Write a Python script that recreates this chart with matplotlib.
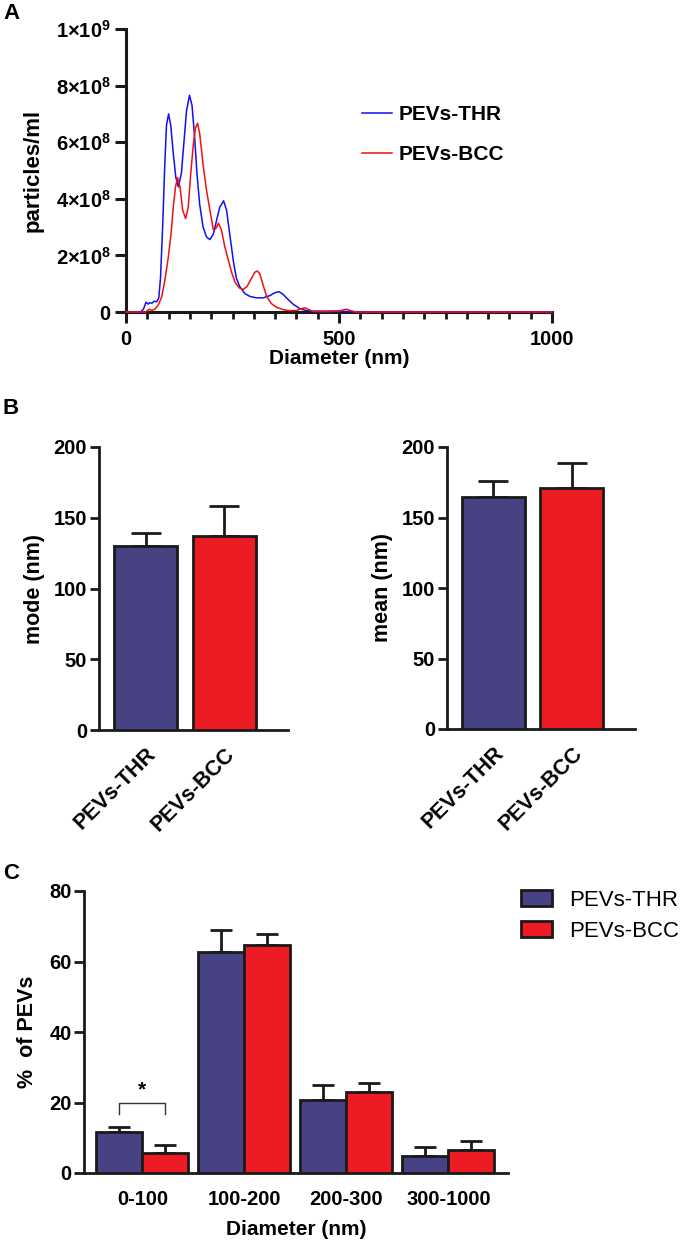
import matplotlib
matplotlib.use('Agg')
import matplotlib.pyplot as plt
from matplotlib.patches import Patch
from matplotlib.lines import Line2D
from matplotlib.ticker import MultipleLocator, FixedLocator

plt.rcParams['font.family'] = ['Liberation Sans', 'DejaVu Sans']
plt.rcParams['mathtext.fontset'] = 'custom'
plt.rcParams['mathtext.rm'] = 'Liberation Sans'
plt.rcParams['mathtext.bf'] = 'Liberation Sans:bold'
plt.rcParams['mathtext.it'] = 'Liberation Sans:italic'

# ---------------- data ----------------
# Panel A: size distribution (particles/ml, in units of 1e8)
diam_thr = [0, 34, 41, 47, 52, 56, 61, 66, 72, 77, 81, 86, 91, 95, 100, 105, 111, 117,
            123, 130, 136, 142, 149, 155, 161, 167, 173, 181, 189, 197, 205, 212, 220,
            229, 236, 244, 252, 259, 267, 279, 291, 306, 322, 338, 349, 359, 369, 380,
            392, 408, 423, 439, 486, 517, 533, 1000]
conc_thr = [0, 0, 0.1, 0.35, 0.28, 0.33, 0.31, 0.38, 0.36, 0.5, 1.2, 3.0, 5.2, 6.6, 7.0,
            6.6, 5.6, 4.75, 4.42, 4.9, 6.0, 7.1, 7.66, 7.3, 6.2, 4.8, 3.8, 3.0, 2.65, 2.56,
            2.75, 3.2, 3.7, 3.93, 3.6, 2.7, 1.8, 1.2, 0.9, 0.65, 0.55, 0.5, 0.5, 0.58, 0.68,
            0.72, 0.62, 0.45, 0.28, 0.12, 0.05, 0.03, 0.03, 0.02, 0, 0]
diam_bcc = [0, 47, 50, 55, 60, 68, 76, 84, 91, 99, 106, 111, 116, 121, 127, 133, 140, 146,
            152, 158, 163, 168, 173, 181, 189, 197, 205, 211, 217, 224, 232, 240, 248, 256,
            266, 275, 284, 295, 302, 308, 314, 322, 330, 341, 353, 369, 384, 400, 412, 420,
            427, 439, 470, 502, 517, 529, 541, 1000]
conc_bcc = [0, 0, 0.05, 0.1, 0.05, 0.1, 0.25, 0.55, 1.1, 1.9, 2.8, 3.7, 4.4, 4.75, 4.4,
            3.6, 3.3, 3.7, 4.9, 5.9, 6.5, 6.67, 6.3, 5.2, 4.3, 3.6, 2.9, 2.95, 3.14, 2.9,
            2.3, 1.85, 1.4, 1.05, 0.85, 0.8, 0.9, 1.2, 1.4, 1.45, 1.35, 0.95, 0.55, 0.3,
            0.17, 0.08, 0.05, 0.05, 0.12, 0.15, 0.1, 0.02, 0.01, 0.04, 0.1, 0.04, 0, 0]
a_yticks = [0, 2e8, 4e8, 6e8, 8e8, 1e9]
a_yticklabels = ['0', r'$\mathbf{2{\times}10^{8}}$', r'$\mathbf{4{\times}10^{8}}$',
                 r'$\mathbf{6{\times}10^{8}}$', r'$\mathbf{8{\times}10^{8}}$',
                 r'$\mathbf{1{\times}10^{9}}$']

# Panel B
groups = ['PEVs-THR', 'PEVs-BCC']
mode_vals = [130.2, 137.3]
mode_err = [9.2, 20.8]
mean_vals = [164.5, 170.7]
mean_err = [11.4, 17.9]

# Panel C
bins = ['0-100', '100-200', '200-300', '300-1000']
pct_thr = [11.5, 62.8, 20.8, 4.8]
pct_thr_err = [1.5, 6.0, 4.3, 2.6]
pct_bcc = [5.8, 64.8, 23.0, 6.4]
pct_bcc_err = [2.2, 3.1, 2.4, 2.6]

# ---------------- style ----------------
C_THR = '#474283'
C_BCC = '#ED1C24'
LINE_BLUE = '#1010F0'
LINE_RED = '#F01010'
INK = '#1a1a1a'

fig = plt.figure(figsize=(6.85, 12.4), dpi=100)
W, H = 685, 1240


def ax_at(x0, y0, x1, y1):
    return fig.add_axes([x0 / W, 1 - y1 / H, (x1 - x0) / W, (y1 - y0) / H])


def style_spines(ax, lw):
    for s in ['top', 'right']:
        ax.spines[s].set_visible(False)
    for s in ['left', 'bottom']:
        ax.spines[s].set_linewidth(lw)
        ax.spines[s].set_color(INK)


# ---------------- Panel A ----------------
axA = ax_at(126, 29, 552, 312)
axA.plot(diam_thr, [v * 1e8 for v in conc_thr], color=LINE_BLUE, lw=1.1, label='PEVs-THR',
         clip_on=False, zorder=3)
axA.plot(diam_bcc, [v * 1e8 for v in conc_bcc], color=LINE_RED, lw=1.1, label='PEVs-BCC',
         clip_on=False, zorder=3)
axA.set_xlim(0, 1000)
axA.set_ylim(0, 1e9)
style_spines(axA, 2.2)
axA.yaxis.set_major_locator(FixedLocator(a_yticks))
axA.set_yticklabels(a_yticklabels)
axA.xaxis.set_major_locator(FixedLocator([0, 500, 1000]))
axA.xaxis.set_minor_locator(MultipleLocator(50))
axA.tick_params(axis='y', length=8, width=2.2, pad=3, labelsize=14.5, color=INK)
axA.tick_params(axis='x', which='major', length=8, width=2.2, pad=5, labelsize=14.5,
                color=INK)
axA.tick_params(axis='x', which='minor', length=5, width=2.0, color=INK)
for t in axA.get_xticklabels() + axA.get_yticklabels():
    t.set_fontweight('bold')
axA.set_xlabel('Diameter (nm)', fontsize=15, fontweight='bold', labelpad=0)
axA.set_ylabel('particles/ml', fontsize=16, fontweight='bold', labelpad=9)
legA = axA.legend(loc='upper left', bbox_to_anchor=((362 - 126) / 426, (312 - 105) / 283),
                  frameon=False, borderpad=0, borderaxespad=0, handlelength=1.45,
                  handletextpad=0.3, labelspacing=1.0,
                  prop={'size': 15, 'weight': 'bold'})

# ---------------- Panel B ----------------
def bar_panel(ax, vals, errs, ylabel):
    x = [0, 1]
    ax.bar(x, vals, width=0.8, color=[C_THR, C_BCC], edgecolor=INK, linewidth=2,
           zorder=3)
    ax.errorbar(x, vals, yerr=[[0, 0], errs], fmt='none', ecolor=INK, elinewidth=2,
                capsize=11, capthick=2, zorder=2)
    ax.set_xlim(-0.59, 1.805)
    ax.set_ylim(0, 200)
    ax.yaxis.set_major_locator(MultipleLocator(50))
    style_spines(ax, 2.0)
    ax.set_xticks(x)
    ax.set_xticklabels(groups, rotation=45, ha='right', rotation_mode='anchor')
    ax.tick_params(axis='x', length=0, pad=10, labelsize=15.5)
    ax.tick_params(axis='y', length=6.5, width=2.0, pad=2, labelsize=14.5, color=INK)
    for t in ax.get_xticklabels() + ax.get_yticklabels():
        t.set_fontweight('bold')
    ax.set_ylabel(ylabel, fontsize=15.5, fontweight='bold', labelpad=6)


axB1 = ax_at(99, 447, 288, 730)
bar_panel(axB1, mode_vals, mode_err, 'mode (nm)')
axB2 = ax_at(447, 447, 635, 729)
bar_panel(axB2, mean_vals, mean_err, 'mean (nm)')

# ---------------- Panel C ----------------
axC = ax_at(84, 891, 508, 1173)
xs = list(range(len(bins)))
bw = 0.45
x_thr = [x - bw / 2 for x in xs]
x_bcc = [x + bw / 2 for x in xs]
axC.bar(x_thr, pct_thr, width=bw, color=C_THR, edgecolor=INK, linewidth=2, zorder=3,
        label='PEVs-THR')
axC.bar(x_bcc, pct_bcc, width=bw, color=C_BCC, edgecolor=INK, linewidth=2, zorder=3,
        label='PEVs-BCC')
axC.errorbar(x_thr, pct_thr, yerr=[[0] * 4, pct_thr_err], fmt='none', ecolor=INK,
             elinewidth=2, capsize=8, capthick=2, zorder=2)
axC.errorbar(x_bcc, pct_bcc, yerr=[[0] * 4, pct_bcc_err], fmt='none', ecolor=INK,
             elinewidth=2, capsize=8, capthick=2, zorder=2)
axC.set_xlim(-0.572, 3.585)
axC.set_ylim(0, 80)
axC.yaxis.set_major_locator(MultipleLocator(20))
style_spines(axC, 2.0)
axC.set_xticks(xs)
axC.set_xticklabels(bins)
axC.tick_params(axis='x', length=0, pad=12, labelsize=14.5)
axC.tick_params(axis='y', length=7, width=2.0, pad=2, labelsize=14.5, color=INK)
for t in axC.get_xticklabels() + axC.get_yticklabels():
    t.set_fontweight('bold')
axC.set_xlabel('Diameter (nm)', fontsize=15, fontweight='bold', labelpad=8)
axC.set_ylabel('%  of PEVs', fontsize=15.5, fontweight='bold', labelpad=8)

# significance bracket
axC.plot([x_thr[0], x_thr[0], x_bcc[0], x_bcc[0]], [16.6, 20.0, 20.0, 16.6],
         color='#333333', lw=1.0, zorder=4)
axC.text(0, 21.0, '*', ha='center', va='bottom', fontsize=15, fontweight='bold')

handles = [Patch(facecolor=C_THR, edgecolor=INK, linewidth=2, label='PEVs-THR'),
           Patch(facecolor=C_BCC, edgecolor=INK, linewidth=2, label='PEVs-BCC')]
fig.legend(handles=handles, loc='upper left', bbox_to_anchor=(521 / W, 1 - 890 / H),
           frameon=False, borderpad=0, borderaxespad=0, handlelength=1.4,
           handleheight=0.75, handletextpad=0.75, labelspacing=0.45,
           prop={'size': 16})

# ---------------- panel labels ----------------
fig.text(3 / W, 1 - 3 / H, 'A', fontsize=16, fontweight='bold', va='top', ha='left')
fig.text(3 / W, 1 - 398 / H, 'B', fontsize=16, fontweight='bold', va='top', ha='left')
fig.text(3 / W, 1 - 863 / H, 'C', fontsize=16, fontweight='bold', va='top', ha='left')

fig.savefig('out.png', dpi=100)
